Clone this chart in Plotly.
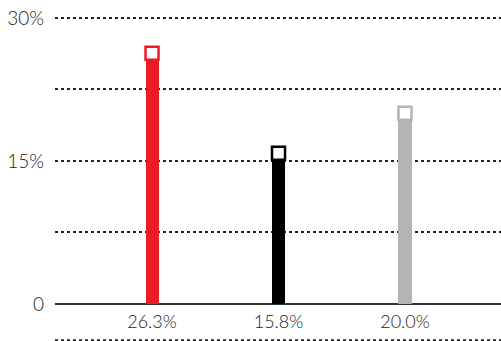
import plotly.graph_objects as go

categories = ["26.3%", "15.8%", "20.0%"]
values = [26.3, 15.8, 20.0]
colors = ["#ED1C24", "#000000", "#B2B3B5"]
ytick_vals = [0, 7.5, 15, 22.5, 30]
ytick_text = ["0", "", "15%", "", "30%"]

x = list(range(len(categories)))

fig = go.Figure()
fig.add_trace(go.Bar(x=x, y=values, width=0.103, marker=dict(color=colors, line=dict(width=0)),
                     hoverinfo="skip"))
fig.add_trace(go.Scatter(x=x, y=values, mode="markers",
                         marker=dict(symbol="square", size=13, color="white",
                                     line=dict(color=colors, width=2.5)),
                         hoverinfo="skip", cliponaxis=False))

fig.update_layout(
    width=501, height=341,
    margin=dict(l=55, r=0, t=15, b=37),
    paper_bgcolor="white", plot_bgcolor="white",
    showlegend=False,
    font=dict(family="Lato", color="#222222"),
    xaxis=dict(range=[-0.767, 2.759], tickvals=x, ticktext=categories,
               showgrid=False, zeroline=False, showline=False,
               tickfont=dict(size=18, color="#222222", weight=300), ticks="", ticklabelstandoff=5),
    yaxis=dict(range=[0, 30.3], tickvals=ytick_vals, ticktext=ytick_text,
               showgrid=True, gridcolor="#222222", griddash="dot", gridwidth=2,
               zeroline=True, zerolinecolor="#333333", zerolinewidth=1.5,
               showline=False, tickfont=dict(size=19, color="#222222", weight=300),
               ticks="", ticklabelstandoff=10),
    bargap=0,
)
fig.add_shape(type="line", xref="paper", yref="paper", x0=0, x1=1, y0=-0.125, y1=-0.125,
              line=dict(color="#222222", width=2, dash="dot"))

fig.write_html("out.html")
